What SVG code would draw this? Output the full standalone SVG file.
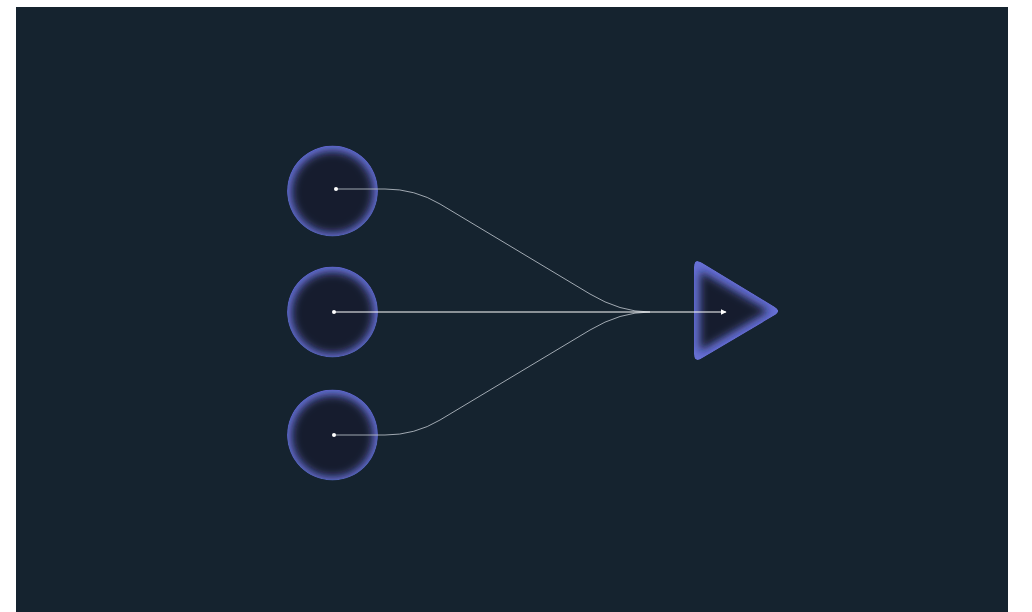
<svg xmlns="http://www.w3.org/2000/svg" width="1032" height="612" viewBox="0 0 1032 612">
  <style>
    .glow { fill: #6770d6; }
    .core { fill: #151e2e; filter: url(#blur); }
    .curve { fill: none; stroke: #b9bfc8; stroke-width: 1; stroke-opacity: 0.85; }
    .main { fill: none; stroke: #ffffff; stroke-width: 1.2; }
    .dot { fill: #ffffff; }
  </style>
  <defs>
    <filter id="blur" x="-30%" y="-30%" width="160%" height="160%">
      <feGaussianBlur stdDeviation="4.5"/>
    </filter>
    <clipPath id="c1"><circle cx="332.5" cy="191" r="45.5"/></clipPath>
    <clipPath id="c2"><circle cx="332.5" cy="312" r="45.5"/></clipPath>
    <clipPath id="c3"><circle cx="332.5" cy="435" r="45.5"/></clipPath>
    <clipPath id="ct"><path d="M694 267 Q694 258 701.7 262.6 L774.3 306.4 Q782 311 774.3 315.6 L701.7 358.4 Q694 363 694 354 Z"/></clipPath>
    <marker id="arrow" viewBox="0 0 10 10" refX="9" refY="5" markerWidth="6" markerHeight="6" markerUnits="userSpaceOnUse" orient="auto">
      <path d="M0 0 L10 5 L0 10 Z" fill="#ffffff"/>
    </marker>
  </defs>
  <rect x="16" y="7" width="992" height="605" fill="#15232f"/>

  <g id="node-in1" clip-path="url(#c1)">
    <circle class="glow" cx="332.5" cy="191" r="45.5"/>
    <circle class="core" cx="332.5" cy="192" r="41"/>
  </g>
  <g id="node-in2" clip-path="url(#c2)">
    <circle class="glow" cx="332.5" cy="312" r="45.5"/>
    <circle class="core" cx="332.5" cy="313" r="41"/>
  </g>
  <g id="node-in3" clip-path="url(#c3)">
    <circle class="glow" cx="332.5" cy="435" r="45.5"/>
    <circle class="core" cx="332.5" cy="436" r="41"/>
  </g>
  <g id="node-out" clip-path="url(#ct)">
    <path class="glow" d="M694 267 Q694 258 701.7 262.6 L774.3 306.4 Q782 311 774.3 315.6 L701.7 358.4 Q694 363 694 354 Z"/>
    <path class="core" d="M700 271 L769 311 L700 351 Z"/>
  </g>

  <g id="connectors">
    <path class="curve" d="M336 189 H385 Q415 189 440 204 L590 294 Q620 312 650 312"/>
    <path class="curve" d="M334 435 H385 Q415 435 440 420 L590 330 Q620 312 650 312"/>
    <path class="main" d="M334 312 H726" marker-end="url(#arrow)"/>
    <circle class="dot" cx="336" cy="189" r="2"/>
    <circle class="dot" cx="334" cy="312" r="2"/>
    <circle class="dot" cx="334" cy="435" r="2"/>
  </g>
</svg>
